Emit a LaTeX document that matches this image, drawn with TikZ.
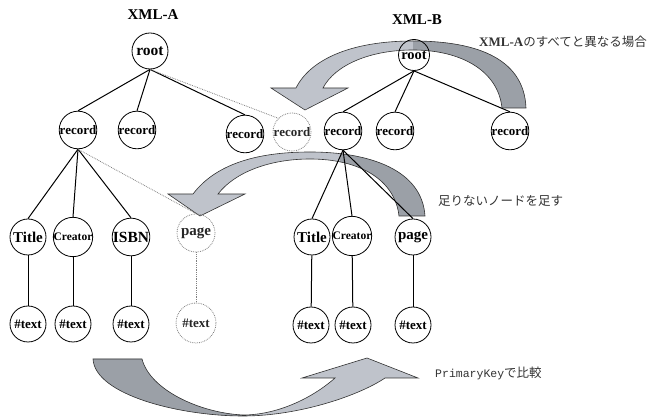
\documentclass[tikz,border=0pt]{standalone}
\usepackage{fontspec}
\setmainfont{Liberation Serif}
\newfontfamily\jpfont{Noto Sans CJK JP}
\newfontfamily\monofont{Liberation Mono}
\definecolor{arrlight}{HTML}{BFC3CB}
\definecolor{arrdark}{HTML}{9BA0A7}
\definecolor{dotgray}{HTML}{808080}
\definecolor{txtgray}{HTML}{333333}
\newcommand\fsz[1]{\fontsize{#1}{#1}\selectfont}
\begin{document}
\begin{tikzpicture}[x=1pt,y=-1pt,
  nd/.style={circle,draw=black,line width=0.8pt,inner sep=0pt,minimum size=36pt,font=\bfseries\fsz{13}},
  ndd/.style={nd,draw=dotgray,densely dotted,text=black!85},
  edge/.style={line width=1pt},
  dedge/.style={draw=dotgray,densely dotted,line width=0.8pt},
  arrline/.style={draw=black!80,line width=0.6pt},
  pA/.style={insert path={(526,108) .. controls (524,55) and (470,41) .. (413,41) .. controls (350,41) and (310,60) .. (296,88) -- (271,88) -- (305,110) -- (348,88) -- (323,88) .. controls (335,65) and (370,50) .. (413,50) .. controls (460,50) and (498,70) .. (502,108) -- cycle}},
  pB/.style={insert path={(193,194) .. controls (215,165) and (255,152) .. (310,152) .. controls (370,152) and (422,170) .. (425,216) -- (399,216) .. controls (395,180) and (360,159) .. (310,159) .. controls (270,159) and (235,172) .. (218,194) -- (245,194) -- (200,216) -- (168,194) -- cycle}},
  pC/.style={insert path={(93,359) .. controls (95,395) and (180,416) .. (243,416) .. controls (300,416) and (360,395) .. (385,378) -- (418,378) -- (367,358) -- (302,378) -- (335,378) .. controls (310,400) and (275,415) .. (243,415) .. controls (200,413) and (150,390) .. (142,359) -- cycle}}]
\useasboundingbox (0,0) rectangle (651,419);

% arrows
\fill[arrlight,pA];
\begin{scope}\clip (413,0) rectangle (651,140);\fill[arrdark,pA];\end{scope}
\draw[arrline,pA];

\fill[arrlight,pB];
\begin{scope}\clip (340,140) rectangle (651,230);\fill[arrdark,pB];\end{scope}
\draw[arrline,pB];

\fill[arrlight,pC];
\begin{scope}\clip (0,340) rectangle (243,419);\fill[arrdark,pC];\end{scope}
\draw[arrline,pC];

% tree A
\node[nd,font=\bfseries\fsz{15.5}] (rootA) at (150,51) {root};
\node[nd] (recA1) at (78,130) {record};
\node[nd] (recA2) at (137,130) {record};
\node[nd] (recA3) at (245,134) {record};
\node[ndd,minimum size=38pt] (recAd) at (292,132) {record};
\node[nd,font=\bfseries\fsz{15}] (titleA) at (28,237) {Title};
\node[nd,font=\bfseries\fsz{11.5}] (creatorA) at (73,237) {Creator};
\node[nd,font=\bfseries\fsz{15.5}] (isbnA) at (131,237) {ISBN};
\node[ndd,minimum size=38pt,font=\bfseries\fsz{15}] (pageAd) at (196,233) {page};
\node[nd,font=\bfseries\fsz{13}] (textA1) at (28,324) {\#text};
\node[nd,font=\bfseries\fsz{13}] (textA2) at (73,324) {\#text};
\node[nd,font=\bfseries\fsz{13}] (textA3) at (131,324) {\#text};
\node[ndd,minimum size=40pt,font=\bfseries\fsz{13}] (textAd) at (196,323) {\#text};

% tree B
\node[nd,minimum size=31pt,font=\bfseries\fsz{14.5}] (rootB) at (414,55) {root};
\node[nd] (recB1) at (343,131) {record};
\node[nd] (recB2) at (395,131) {record};
\node[nd] (recB3) at (510,131) {record};
\node[nd,font=\bfseries\fsz{15}] (titleB) at (312,237) {Title};
\node[nd,font=\bfseries\fsz{11.5}] (creatorB) at (352,236) {Creator};
\node[nd,font=\bfseries\fsz{15}] (pageB) at (413,237) {page};
\node[nd,font=\bfseries\fsz{13}] (textB1) at (311,325) {\#text};
\node[nd,font=\bfseries\fsz{13}] (textB2) at (353,325) {\#text};
\node[nd,font=\bfseries\fsz{13}] (textB3) at (413,325) {\#text};

% edges A
\draw[edge] (rootA.south) -- (recA1.north);
\draw[edge] (rootA.south) -- (recA2.north);
\draw[edge] (rootA.south) -- (recA3.north);
\draw[dedge] (rootA.south) -- (recAd.north west);
\draw[edge] (recA1.south) -- (titleA.north);
\draw[edge] (recA1.south) -- (creatorA.north);
\draw[edge] (recA1.south) -- (isbnA.north);
\draw[dedge] (recA1.south) -- (pageAd.north);
\draw[edge] (titleA) -- (textA1);
\draw[edge] (creatorA) -- (textA2);
\draw[edge] (isbnA) -- (textA3);
\draw[dedge] (pageAd) -- (textAd);

% edges B
\draw[edge] (rootB.south) -- (recB1.north);
\draw[edge] (rootB.south) -- (recB2.north);
\draw[edge] (rootB.south) -- (recB3.north);
\draw[edge] (recB1.south) -- (titleB.north);
\draw[edge] (recB1.south) -- (creatorB.north);
\draw[edge] (recB1.south) -- (pageB.north);
\draw[edge] (titleB) -- (textB1);
\draw[edge] (creatorB) -- (textB2);
\draw[edge] (pageB) -- (textB3);

% labels
\node[font=\bfseries\fsz{15}] (labA) at (153,15) {XML-A};
\node[font=\bfseries\fsz{15}] (labB) at (417,20) {XML-B};
\node[anchor=west,inner sep=0pt,text=txtgray] (t1) at (479,42) {{\bfseries\fsz{13}XML-A}{\jpfont\fsz{12.5}のすべてと異なる場合}};
\node[anchor=west,inner sep=0pt,text=txtgray,font=\jpfont\fsz{12.5}] (t2) at (438,201) {足りないノードを足す};
\node[anchor=west,inner sep=0pt,text=txtgray] (t3) at (435,373) {{\monofont\fsz{11.5}PrimaryKey}{\jpfont\fsz{12.5}で比較}};
\end{tikzpicture}
\end{document}
